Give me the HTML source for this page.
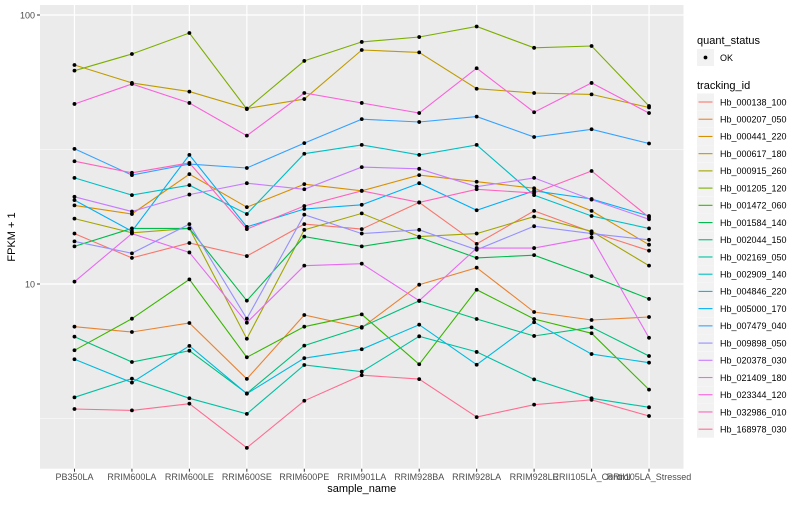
<!DOCTYPE html>
<html><head><meta charset="utf-8"><style>
html,body{margin:0;padding:0;background:#fff;}
svg text{font-family:"Liberation Sans",sans-serif;}
</style></head><body>
<svg id="chart" width="800" height="500" xmlns="http://www.w3.org/2000/svg"></svg>
<script>
const categories=["PB350LA","RRIM600LA","RRIM600LE","RRIM600SE","RRIM600PE","RRIM901LA","RRIM928BA","RRIM928LA","RRIM928LE","RRII105LA_Control","RRII105LA_Stressed"];
const seriesNames=["Hb_000138_100","Hb_000207_050","Hb_000441_220","Hb_000617_180","Hb_000915_260","Hb_001205_120","Hb_001472_060","Hb_001584_140","Hb_002044_150","Hb_002169_050","Hb_002909_140","Hb_004846_220","Hb_005000_170","Hb_007479_040","Hb_009898_050","Hb_020378_030","Hb_021409_180","Hb_023344_120","Hb_032986_010","Hb_168978_030"];
const colors=["#F8766D","#EA8331","#D89000","#C09B00","#A3A500","#7CAE00","#39B600","#00BB4E","#00BF7D","#00C1A3","#00BFC4","#00BAE0","#00B0F6","#35A2FF","#9590FF","#C77CFF","#E76BF3","#FA62DB","#FF62BC","#FF6C91"];
const s000138=[15.4,12.5,14.2,12.7,16.7,16.0,20.1,14.1,18.7,15.6,13.3];
const s000207=[6.94,6.63,7.16,4.44,7.67,6.88,9.94,11.5,7.87,7.35,7.54];
const s000441=[19.6,18.2,25.6,19.3,23.5,22.2,25.4,24.0,22.7,18.7,14.0];
const s000617=[65.2,55.9,51.9,44.9,48.7,74.1,72.6,53.2,51.3,50.7,45.3];
const s000915=[17.5,15.5,16.1,6.26,15.9,18.3,15.0,15.4,17.8,15.7,11.7];
const s001205=[62.1,71.6,85.7,44.7,67.5,79.4,82.8,90.6,75.5,76.7,45.9];
const s001472=[5.67,7.43,10.4,5.34,6.94,7.71,5.03,9.52,7.41,6.56,4.05];
const s001584=[13.8,16.1,16.1,8.67,15.0,13.8,14.9,12.5,12.8,10.7,8.80];
const s002044=[6.37,5.13,5.65,3.92,5.90,6.92,8.65,7.41,6.41,6.90,5.40];
const s002169=[3.79,4.45,3.76,3.29,5.00,4.72,6.39,5.59,4.42,3.76,3.48];
const s002909=[24.8,21.4,23.3,18.2,30.5,32.9,30.2,32.9,21.4,17.9,16.1];
const s004846=[5.25,4.30,5.89,3.91,5.30,5.72,7.06,5.01,7.21,5.49,5.10];
const s005000=[20.5,15.7,30.2,16.3,19.0,19.7,23.7,18.8,22.2,20.7,17.9];
const s007479=[31.8,25.4,27.9,27.0,33.4,41.0,40.0,41.9,35.2,37.6,33.3];
const s009898=[14.4,13.0,16.7,7.43,18.1,15.4,15.9,13.4,16.4,15.4,14.6];
const s020378=[21.1,18.6,21.5,23.7,22.5,27.2,26.8,23.0,24.8,20.6,17.4];
const s021409=[10.2,15.4,13.1,7.18,11.7,11.9,8.67,13.6,13.6,14.9,6.31];
const s023344=[46.7,55.4,47.1,35.6,51.3,47.1,43.2,63.4,43.5,55.9,43.2];
const s032986=[28.6,25.9,28.2,16.0,19.5,22.2,20.1,22.5,21.8,26.3,17.7];
const s168978=[3.43,3.39,3.59,2.46,3.68,4.58,4.43,3.20,3.56,3.71,3.23];
const seriesValues=[s000138,s000207,s000441,s000617,s000915,s001205,s001472,s001584,s002044,s002169,s002909,s004846,s005000,s007479,s009898,s020378,s021409,s023344,s032986,s168978];
const yTicks=[10,100];
const yMinor=[Math.sqrt(10),Math.sqrt(1000)];

const NS="http://www.w3.org/2000/svg";
const svg=document.getElementById('chart');
const P={l:40,r:683.5,t:5,b:468.7};
const step=(P.r-P.l)/(categories.length+0.2);
function xs(i){return P.l+step*(0.6+i);}
function ys(v){return 284-(Math.log10(v)-1)*269;}
function mk(tag,attrs,parent){const e=document.createElementNS(NS,tag);for(const k in attrs)e.setAttribute(k,attrs[k]);(parent||svg).appendChild(e);return e;}

const panel=mk('rect',{x:P.l,y:P.t,width:P.r-P.l,height:P.b-P.t,fill:'#EBEBEB'});


yMinor.forEach(v=>{const g=mk('line',{x1:P.l,x2:P.r,y1:ys(v),y2:ys(v),stroke:'#fff','stroke-width':0.6});

});
yTicks.forEach(v=>{const g=mk('line',{x1:P.l,x2:P.r,y1:ys(v),y2:ys(v),stroke:'#fff','stroke-width':1.2});


const t=mk('text',{x:35,y:ys(v)+3.5,'text-anchor':'end','font-size':9,fill:'#4D4D4D'});t.textContent=v;


const tk=mk('line',{x1:37,x2:P.l,y1:ys(v),y2:ys(v),stroke:'#333','stroke-width':1});

});
categories.forEach((c,i)=>{const g=mk('line',{x1:xs(i),x2:xs(i),y1:P.t,y2:P.b,stroke:'#fff','stroke-width':1.2});


const tk=mk('line',{x1:xs(i),x2:xs(i),y1:P.b,y2:P.b+3,stroke:'#333','stroke-width':1});


const t=mk('text',{x:xs(i),y:480,'text-anchor':'middle','font-size':9,fill:'#4D4D4D'});t.textContent=c;

});

seriesValues.forEach((vals,s)=>{
 const pts=vals.map((v,i)=>xs(i).toFixed(1)+','+ys(v).toFixed(1)).join(' ');
 const pl=mk('polyline',{points:pts,fill:'none',stroke:colors[s],'stroke-width':1.1});
 
 
});
seriesValues.forEach((vals,s)=>{
 vals.forEach((v,i)=>{const c=mk('circle',{cx:xs(i),cy:ys(v),r:1.9,fill:'#000'});
 
 });
});

const yt=mk('text',{x:15,y:237,'text-anchor':'middle','font-size':11,fill:'#000',transform:'rotate(-90 15 237)'});yt.textContent='FPKM + 1';


const xt=mk('text',{x:(P.l+P.r)/2,y:492,'text-anchor':'middle','font-size':11,fill:'#000'});xt.textContent='sample_name';



const lt1=mk('text',{x:697,y:44,'font-size':11,fill:'#000'});lt1.textContent='quant_status';


const kb=mk('rect',{x:697,y:49,width:17,height:17,fill:'#F2F2F2'});


const kd=mk('circle',{cx:705.5,cy:57.5,r:1.9,fill:'#000'});


const ko=mk('text',{x:720,y:61,'font-size':9,fill:'#000'});ko.textContent='OK';


const lt2=mk('text',{x:697,y:89,'font-size':11,fill:'#000'});lt2.textContent='tracking_id';


seriesNames.forEach((n,s)=>{const cy=102+s*17.22;
 const b=mk('rect',{x:697,y:cy-8.5,width:17,height:17,fill:'#F2F2F2'});
 
 
 const l=mk('line',{x1:698.5,x2:712.5,y1:cy,y2:cy,stroke:colors[s],'stroke-width':1.1});
 
 
 const t=mk('text',{x:720,y:cy+3.3,'font-size':9,fill:'#000'});t.textContent=n;
 
 
});
</script>
</body></html>
